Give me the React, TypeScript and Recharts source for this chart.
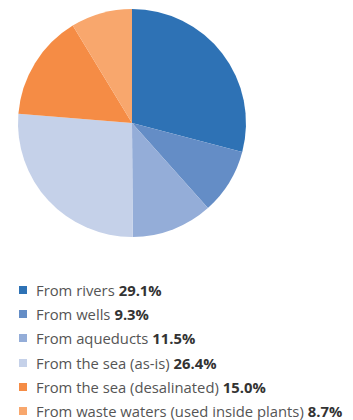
import React from "react";
import { PieChart, Pie, Cell } from "recharts";

const categories = [
  "From rivers",
  "From wells",
  "From aqueducts",
  "From the sea (as-is)",
  "From the sea (desalinated)",
  "From waste waters (used inside plants)",
];
const values = [29.1, 9.3, 11.5, 26.4, 15.0, 8.7];
const colors = ["#2E72B5", "#648DC6", "#94ADD8", "#C5D1E9", "#F58C45", "#F8A76D"];

const data = categories.map((name, i) => ({ name, value: values[i] }));

export default function App() {
  return (
    <div style={{ position: "absolute", left: 0, top: 0, width: 353, height: 420, background: "#fff" }}>
      <PieChart width={353} height={250} margin={{ top: 0, right: 0, bottom: 0, left: 0 }}>
        <Pie
          data={data}
          dataKey="value"
          nameKey="name"
          cx={132}
          cy={123}
          outerRadius={114}
          startAngle={90}
          endAngle={-270}
          stroke="none"
          isAnimationActive={false}
        >
          {data.map((d, i) => (
            <Cell key={d.name} fill={colors[i]} />
          ))}
        </Pie>
      </PieChart>
      <div
        style={{
          position: "absolute",
          left: 19,
          top: 278,
          width: 334,
          fontFamily: "'Open Sans', sans-serif",
          fontSize: 14.8,
        }}
      >
        {data.map((d, i) => (
          <div
            key={d.name}
            style={{ display: "flex", alignItems: "center", height: 24.2, whiteSpace: "nowrap" }}
          >
            <span
              style={{
                display: "inline-block",
                width: 8,
                height: 8,
                background: colors[i],
                marginRight: 9,
              }}
            />
            <span style={{ color: "#555" }}>{d.name}</span>
            <span style={{ color: "#333", fontWeight: 700, marginLeft: 4 }}>{d.value.toFixed(1)}%</span>
          </div>
        ))}
      </div>
    </div>
  );
}
